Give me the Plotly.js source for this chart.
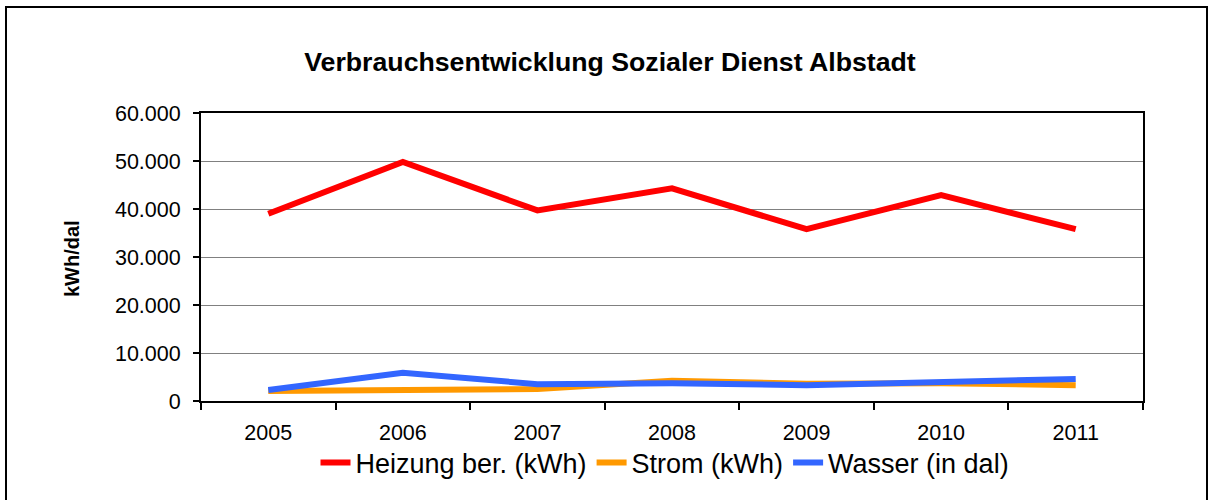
<!DOCTYPE html>
<html>
<head>
<meta charset="utf-8">
<script src="https://cdn.plot.ly/plotly-3.0.1.min.js"></script>
<style>
html,body{margin:0;padding:0;background:#fff;}
#chart{width:1213px;height:500px;}
</style>
</head>
<body>
<div id="chart"></div>
<script>
const years = ['2005', '2006', '2007', '2008', '2009', '2010', '2011'];
const heizung = [39000, 49800, 39700, 44300, 35800, 42900, 35800];
const strom = [2100, 2300, 2500, 4200, 3600, 3700, 3300];
const wasser = [2300, 5900, 3500, 3700, 3300, 4000, 4600];
const seriesNames = ['Heizung ber. (kWh)', 'Strom (kWh)', 'Wasser (in dal)'];

const FONT = '"Liberation Sans", Arial, sans-serif';
const L = 201, R = 70, T = 113, B = 99;
const W = 1213, H = 500;
const pw = W - L - R, ph = H - T - B;
const px = x => (x - L) / pw;
const py = y => (H - B - y) / ph;

const traces = [
  {x: years, y: heizung, name: seriesNames[0], type: 'scatter', mode: 'lines',
   line: {color: '#FF0000', width: 6}},
  {x: years, y: strom, name: seriesNames[1], type: 'scatter', mode: 'lines',
   line: {color: '#FF9900', width: 6}},
  {x: years, y: wasser, name: seriesNames[2], type: 'scatter', mode: 'lines',
   line: {color: '#3366FF', width: 6}}
];

const layout = {
  width: W, height: H,
  margin: {l: L, r: R, t: T, b: B, pad: 0},
  paper_bgcolor: '#ffffff',
  plot_bgcolor: '#ffffff',
  font: {family: FONT, color: '#000000'},
  separators: ',.',
  title: {
    text: '<b>Verbrauchsentwicklung Sozialer Dienst Albstadt</b>',
    font: {family: FONT, size: 26.7, color: '#000'},
    xref: 'container', yref: 'container',
    x: 610 / W, y: 1 - 62 / H, xanchor: 'center', yanchor: 'middle'
  },
  xaxis: {
    type: 'category',
    range: [-0.5, 6.5],
    tickson: 'boundaries',
    ticks: 'outside', ticklen: 7, tickwidth: 2, tickcolor: '#000',
    showline: true, linecolor: '#000', linewidth: 2, mirror: true,
    showgrid: false, zeroline: false,
    tickfont: {family: FONT, size: 21.5, color: '#000'},
    ticklabelstandoff: 11
  },
  yaxis: {
    range: [0, 60000],
    dtick: 10000,
    tickformat: ',d',
    ticks: 'outside', ticklen: 6, tickwidth: 2, tickcolor: '#000',
    showline: true, linecolor: '#000', linewidth: 2, mirror: true,
    showgrid: true, gridcolor: '#808080', gridwidth: 1,
    zeroline: false,
    tickfont: {family: FONT, size: 21.5, color: '#000'},
    ticklabelstandoff: 8
  },
  showlegend: true,
  legend: {
    orientation: 'h',
    x: px(665), y: py(463), xanchor: 'center', yanchor: 'middle',
    font: {family: FONT, size: 27, color: '#000'},
    bgcolor: 'rgba(0,0,0,0)',
    tracegroupgap: 0
  },
  annotations: [{
    text: '<b>kWh/dal</b>',
    xref: 'paper', yref: 'paper',
    x: px(72), y: py(259),
    xanchor: 'center', yanchor: 'middle',
    textangle: -90, showarrow: false,
    font: {family: FONT, size: 20, color: '#000'}
  }],
  shapes: [{
    type: 'rect', xref: 'paper', yref: 'paper',
    x0: px(6), x1: px(1207), y0: py(520), y1: py(7),
    line: {color: '#000', width: 2}, fillcolor: 'rgba(0,0,0,0)', layer: 'below'
  }]
};

Plotly.newPlot('chart', traces, layout, {displayModeBar: false, staticPlot: true});
</script>
</body>
</html>
